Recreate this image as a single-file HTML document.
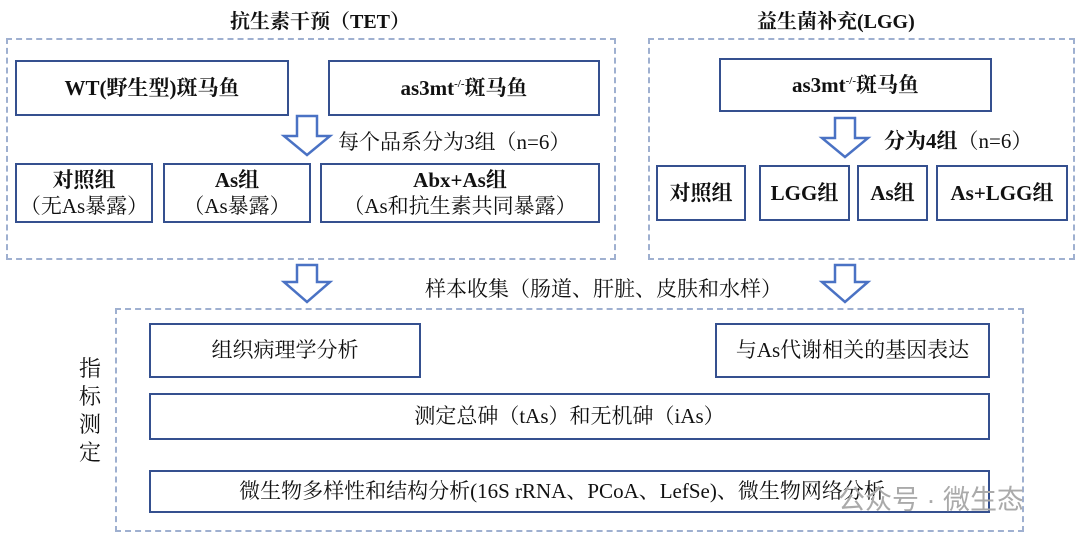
<!DOCTYPE html>
<html><head><meta charset="utf-8"><style>
body{margin:0;width:1080px;height:540px;background:#fff;position:relative;overflow:hidden;font-family:"Liberation Serif","Noto Serif CJK SC",serif;color:#111}
.a{position:absolute}
.d{position:absolute;border:2px dashed #9fb0d0;box-sizing:border-box}
.b{position:absolute;border:2.5px solid #35508f;box-sizing:border-box;display:flex;flex-direction:column;align-items:center;justify-content:center;text-align:center;font-size:21px;line-height:1.25;background:#fff;white-space:nowrap}
.t{position:absolute;font-size:21px;white-space:nowrap}
</style></head><body>
<div class="t" style="left:230px;top:5px;font-size:20px;font-weight:bold">抗生素干预（TET）</div>
<div class="t" style="left:757px;top:5px;font-size:20px;font-weight:bold">益生菌补充(LGG)</div>
<div class="d" style="left:6px;top:38px;width:610px;height:222px"></div>
<div class="d" style="left:648px;top:38px;width:427px;height:222px"></div>
<div class="d" style="left:115px;top:308px;width:909px;height:224px"></div>

<div class="b" style="left:15px;top:60px;width:274px;height:56px;font-weight:bold">WT(野生型)斑马鱼</div>
<div class="b" style="left:328px;top:60px;width:272px;height:56px;font-weight:bold"><span>as3mt<sup style="font-size:11px">-/-</sup>斑马鱼</span></div>
<div class="t" style="left:338px;top:126px">每个品系分为3组（n=6）</div>
<div class="b" style="left:15px;top:163px;width:138px;height:60px"><b>对照组</b><span>（无As暴露）</span></div>
<div class="b" style="left:163px;top:163px;width:148px;height:60px"><b>As组</b><span>（As暴露）</span></div>
<div class="b" style="left:320px;top:163px;width:280px;height:60px"><b>Abx+As组</b><span>（As和抗生素共同暴露）</span></div>

<div class="b" style="left:719px;top:58px;width:273px;height:54px;font-weight:bold"><span>as3mt<sup style="font-size:11px">-/-</sup>斑马鱼</span></div>
<div class="t" style="left:884px;top:125px"><b>分为4组</b>（n=6）</div>
<div class="b" style="left:656px;top:165px;width:90px;height:56px;font-weight:bold">对照组</div>
<div class="b" style="left:759px;top:165px;width:91px;height:56px;font-weight:bold">LGG组</div>
<div class="b" style="left:857px;top:165px;width:71px;height:56px;font-weight:bold">As组</div>
<div class="b" style="left:936px;top:165px;width:132px;height:56px;font-weight:bold">As+LGG组</div>

<div class="t" style="left:425px;top:273px">样本收集（肠道、肝脏、皮肤和水样）</div>
<div class="t" style="left:79px;top:355px;width:24px;white-space:normal;line-height:28px;font-size:22px">指标测定</div>
<div class="b" style="left:149px;top:323px;width:272px;height:55px">组织病理学分析</div>
<div class="b" style="left:715px;top:323px;width:275px;height:55px">与As代谢相关的基因表达</div>
<div class="b" style="left:149px;top:393px;width:841px;height:47px">测定总砷（tAs）和无机砷（iAs）</div>
<div class="b" style="left:149px;top:470px;width:841px;height:43px"><span style="margin-left:-15px">微生物多样性和结构分析(16S rRNA、PCoA、LefSe)、微生物网络分析</span></div>
<div class="t" style="left:838px;top:478px;color:#aaa;font-family:'Liberation Sans','Noto Sans CJK SC',sans-serif;font-size:27px">公众号 · 微生态</div>

<svg class="a" style="left:0;top:0" width="1080" height="540">
<g fill="#fff" stroke="#4a72c4" stroke-width="2.5" stroke-linejoin="miter">
<path d="M297 116 h20 v20 h13 l-23 19 l-23 -19 h13 z"/>
<path d="M835 118 h20 v20 h13 l-23 19 l-23 -19 h13 z"/>
<path d="M297 265 h20 v17 h13 l-23 20 l-23 -20 h13 z"/>
<path d="M835 265 h20 v17 h13 l-23 20 l-23 -20 h13 z"/>
</g></svg>
</body></html>
